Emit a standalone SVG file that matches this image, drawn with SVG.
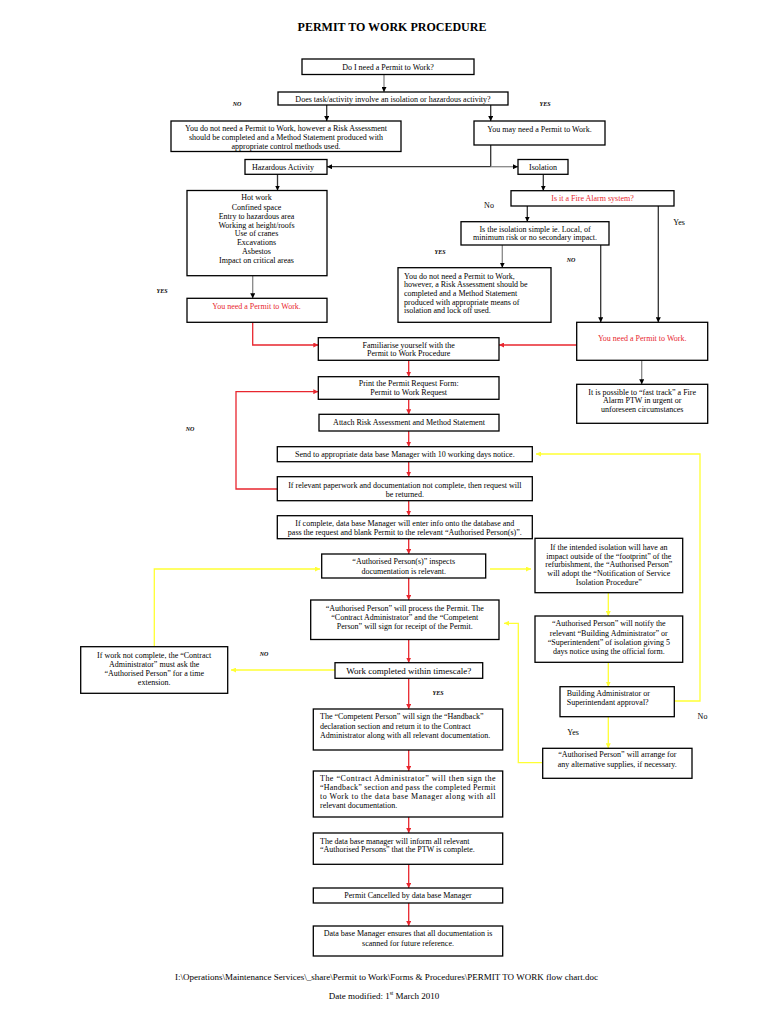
<svg xmlns="http://www.w3.org/2000/svg" width="768" height="1024" viewBox="0 0 768 1024">
<style>
.bg{fill:#fff}
.b{fill:#fff;stroke:#000;stroke-width:1.3}
.t{font-family:"Liberation Serif","Times New Roman",serif;font-size:8px;fill:#000}
.c{text-anchor:middle}
.red{fill:#e8262e}
.lab{font-family:"Liberation Serif","Times New Roman",serif;font-size:6px;font-style:italic;font-weight:bold;fill:#000;text-anchor:middle}
.yn{font-family:"Liberation Serif","Times New Roman",serif;font-size:8px;fill:#000;text-anchor:middle}
.ft{font-family:"Liberation Serif","Times New Roman",serif;font-size:9px;fill:#000;text-anchor:middle}
.ck{stroke:#333;stroke-width:1.3;fill:none}
.cg{stroke:#888;stroke-width:1.3;fill:none}
.cr{stroke:#e8262e;stroke-width:1.3;fill:none}
.cy{stroke:#ffff33;stroke-width:1.3;fill:none}
.mk{marker-end:url(#ak)}
.mr{marker-end:url(#ar)}
.my{marker-end:url(#ay)}
</style>
<defs>
<marker id="ak" viewBox="0 0 10 10" refX="10" refY="5" markerWidth="5" markerHeight="5" markerUnits="userSpaceOnUse" orient="auto"><path d="M0,0 L10,5 L0,10 z" fill="#000"/></marker>
<marker id="ar" viewBox="0 0 10 10" refX="10" refY="5" markerWidth="5" markerHeight="5" markerUnits="userSpaceOnUse" orient="auto"><path d="M0,0 L10,5 L0,10 z" fill="#e8262e"/></marker>
<marker id="ay" viewBox="0 0 10 10" refX="10" refY="5" markerWidth="5" markerHeight="5" markerUnits="userSpaceOnUse" orient="auto"><path d="M0,0 L10,5 L0,10 z" fill="#ffff33"/></marker>
</defs>
<rect class="bg" x="0" y="0" width="768" height="1024"/>

<text x="392" y="31" class="c" style="font-family:'Liberation Serif','Times New Roman',serif;font-size:12px;font-weight:bold">PERMIT TO WORK PROCEDURE</text>

<g id="connectors">
<path class="cg mk" d="M384,74.5 V92"/>
<path class="ck mk" d="M326.7,105 V121"/>
<path class="ck mk" d="M490.7,105 V121"/>
<path class="ck" d="M490.7,145 V166.7"/>
<path class="ck mk" d="M490.7,166.7 H327"/>
<path class="cg mk" d="M490.7,166.7 H518"/>
<path class="ck mk" d="M277.5,174.3 V190.5"/>
<path class="cg mk" d="M252.7,275.7 V298.3"/>
<path class="ck mk" d="M543.3,174.3 V190.7"/>
<path class="ck mk" d="M527.3,206 V221.7"/>
<path class="ck mk" d="M658.3,206 V322.3"/>
<path class="cg mk" d="M502.3,245 V267.7"/>
<path class="ck mk" d="M600.7,245 V322.3"/>
<path class="cg mk" d="M641.7,360.3 V384.3"/>

<path class="cr mr" d="M252.7,322.3 V345 H318.3"/>
<path class="cr mr" d="M576.7,345 H499"/>
<path class="cr mr" d="M408.7,360.3 V376.7"/>
<path class="cr mr" d="M408.7,399.3 V414.3"/>
<path class="cr mr" d="M408.7,431 V446.7"/>
<path class="cr mr" d="M408.7,461.7 V476.7"/>
<path class="cr mr" d="M408.7,500.7 V515.7"/>
<path class="cr mr" d="M408.7,538.7 V554"/>
<path class="cr mr" d="M408.7,578 V600"/>
<path class="cr mr" d="M408.7,639.5 V662.7"/>
<path class="cr mr" d="M408.7,678.3 V709"/>
<path class="cr mr" d="M408.7,750 V771"/>
<path class="cr mr" d="M408.7,817 V833"/>
<path class="cr mr" d="M408.7,864.3 V888"/>
<path class="cr mr" d="M408.7,903 V926"/>
<path class="cr mr" d="M277.3,489 H236 V391.7 H318.3"/>

<path class="cy my" d="M335,670 H231"/>
<path class="cy my" d="M154.3,647 V569 H320"/>
<path class="cy my" d="M490,569 H531"/>
<path class="cy my" d="M608.3,592.7 V616"/>
<path class="cy my" d="M608.3,662.3 V686.7"/>
<path class="cy my" d="M608.3,716.7 V748.3"/>
<path class="cy my" d="M674.3,701 H700 V454 H536"/>
<path class="cy my" d="M542.7,762.7 H518.3 V623.3 H504"/>
</g>

<g id="n-q1">
<rect class="b" x="302" y="59" width="172" height="15.5"/>
<text class="t c" x="388" y="69.5">Do I need a Permit to Work?</text>
</g>
<g id="n-q2">
<rect class="b" x="278" y="92" width="230" height="13"/>
<text class="t c" x="393" y="101.5">Does task/activity involve an isolation or hazardous activity?</text>
</g>
<g id="n-nopermit1">
<rect class="b" x="171" y="121" width="230" height="30.5"/>
<text class="t c" x="286" y="131">You do not need a Permit to Work, however a Risk Assessment</text>
<text class="t c" x="286" y="139.5">should be completed and a Method Statement produced with</text>
<text class="t c" x="286" y="148.5">appropriate control methods used.</text>
</g>
<g id="n-maypermit">
<rect class="b" x="474" y="121" width="131" height="24"/>
<text class="t c" x="539.5" y="131.5">You may need a Permit to Work.</text>
</g>
<g id="n-hazardous">
<rect class="b" x="245" y="159.5" width="82" height="14.8"/>
<text class="t c" x="283" y="169.5">Hazardous Activity</text>
</g>
<g id="n-isolation">
<rect class="b" x="518" y="159.5" width="50" height="14.8"/>
<text class="t c" x="543" y="169.5">Isolation</text>
</g>
<g id="n-list">
<rect class="b" x="187" y="190.5" width="140" height="85.2"/>
<text class="t c" x="256.5" y="199.5">Hot work</text>
<text class="t c" x="256.5" y="210">Confined space</text>
<text class="t c" x="256.5" y="219">Entry to hazardous area</text>
<text class="t c" x="256.5" y="227.5">Working at height/roofs</text>
<text class="t c" x="256.5" y="236">Use of cranes</text>
<text class="t c" x="256.5" y="245">Excavations</text>
<text class="t c" x="256.5" y="253.5">Asbestos</text>
<text class="t c" x="256.5" y="263">Impact on critical areas</text>
</g>
<g id="n-needpermit-left">
<rect class="b" x="187" y="298.3" width="140" height="24"/>
<text class="t c red" x="256.5" y="309">You need a Permit to Work.</text>
</g>
<g id="n-firealarm">
<rect class="b" x="511" y="190.7" width="163" height="15.3"/>
<text class="t c red" x="592.5" y="200.8">Is it a Fire Alarm system?</text>
</g>
<g id="n-simple">
<rect class="b" x="461" y="221.7" width="148" height="23.3"/>
<text class="t c" x="535" y="231.5">Is the isolation simple ie. Local, of</text>
<text class="t c" x="535" y="240">minimum risk or no secondary impact.</text>
</g>
<g id="n-nopermit2">
<rect class="b" x="398" y="267.7" width="153" height="54.6"/>
<text class="t" x="404" y="278.5">You do not need a Permit to Work,</text>
<text class="t" x="404" y="287">however, a Risk Assessment should be</text>
<text class="t" x="404" y="295.5">completed and a Method Statement</text>
<text class="t" x="404" y="304.5">produced with appropriate means of</text>
<text class="t" x="404" y="313">isolation and lock off used.</text>
</g>
<g id="n-needpermit-right">
<rect class="b" x="576.7" y="322.3" width="131" height="38"/>
<text class="t c red" x="642.2" y="341">You need a Permit to Work.</text>
</g>
<g id="n-fasttrack">
<rect class="b" x="576.7" y="384.3" width="131" height="39"/>
<text class="t c" x="642.2" y="394.5">It is possible to “fast track” a Fire</text>
<text class="t c" x="642.2" y="403">Alarm PTW in urgent or</text>
<text class="t c" x="642.2" y="411.5">unforeseen circumstances</text>
</g>
<g id="n-familiarise">
<rect class="b" x="318.3" y="337.7" width="180.7" height="22.6"/>
<text class="t c" x="408.7" y="347.5">Familiarise yourself with the</text>
<text class="t c" x="408.7" y="356">Permit to Work Procedure</text>
</g>
<g id="n-print">
<rect class="b" x="318.3" y="376.7" width="180.7" height="22.6"/>
<text class="t c" x="408.7" y="386">Print the Permit Request Form:</text>
<text class="t c" x="408.7" y="395">Permit to Work Request</text>
</g>
<g id="n-attach">
<rect class="b" x="319" y="414.3" width="180" height="16.7"/>
<text class="t c" x="409" y="425">Attach Risk Assessment and Method Statement</text>
</g>
<g id="n-send">
<rect class="b" x="277.3" y="446.7" width="255" height="15"/>
<text class="t c" x="404.8" y="456.5">Send to appropriate data base Manager with 10 working days notice.</text>
</g>
<g id="n-notcomplete">
<rect class="b" x="277.3" y="476.7" width="255" height="24"/>
<text class="t c" x="404.8" y="487.5">If relevant paperwork and documentation not complete, then request will</text>
<text class="t c" x="404.8" y="496.5">be returned.</text>
</g>
<g id="n-complete">
<rect class="b" x="277.3" y="515.7" width="255" height="23"/>
<text class="t c" x="404.8" y="526">If complete, data base Manager will enter info onto the database and</text>
<text class="t c" x="404.8" y="535">pass the request and blank Permit to the relevant “Authorised Person(s)”.</text>
</g>
<g id="n-inspects">
<rect class="b" x="321.7" y="554" width="164" height="24"/>
<text class="t c" x="403.7" y="564">“Authorised Person(s)” inspects</text>
<text class="t c" x="403.7" y="573.5">documentation is relevant.</text>
</g>
<g id="n-process">
<rect class="b" x="310.7" y="600" width="188.3" height="39.5"/>
<text class="t c" x="404.8" y="611">“Authorised Person” will process the Permit.  The</text>
<text class="t c" x="404.8" y="620">“Contract Administrator” and the “Competent</text>
<text class="t c" x="404.8" y="629">Person” will sign for receipt of the Permit.</text>
</g>
<g id="n-timescale">
<rect class="b" x="335" y="662.7" width="147.7" height="15.6"/>
<text class="t c" x="408.8" y="673.8" style="font-size:9px">Work completed within timescale?</text>
</g>
<g id="n-extension">
<rect class="b" x="80.7" y="646.7" width="147" height="46.6"/>
<text class="t c" x="154.2" y="657.5">If work not complete, the “Contract</text>
<text class="t c" x="154.2" y="666.5">Administrator” must ask the</text>
<text class="t c" x="154.2" y="675.5">“Authorised Person” for a time</text>
<text class="t c" x="154.2" y="684.5">extension.</text>
</g>
<g id="n-handback">
<rect class="b" x="313.3" y="709" width="189.4" height="41"/>
<text class="t" x="320" y="719">The “Competent Person” will sign the “Handback”</text>
<text class="t" x="320" y="728.5">declaration section and return it to the Contract</text>
<text class="t" x="320" y="738">Administrator along with all relevant documentation.</text>
</g>
<g id="n-contractadmin">
<rect class="b" x="313.3" y="771" width="189.4" height="46"/>
<text class="t" x="320" y="781" textLength="175.5" lengthAdjust="spacing">The “Contract Administrator” will then sign the</text>
<text class="t" x="320" y="790" textLength="175.5" lengthAdjust="spacing">“Handback” section and pass the completed Permit</text>
<text class="t" x="320" y="799" textLength="175.5" lengthAdjust="spacing">to Work to the data base Manager along with all</text>
<text class="t" x="320" y="808">relevant documentation.</text>
</g>
<g id="n-inform">
<rect class="b" x="313.3" y="833" width="189.4" height="31.3"/>
<text class="t" x="320" y="843.5">The data base manager will inform all relevant</text>
<text class="t" x="320" y="852">“Authorised Persons” that the PTW is complete.</text>
</g>
<g id="n-cancelled">
<rect class="b" x="313.3" y="888" width="189.4" height="15"/>
<text class="t c" x="408" y="898">Permit Cancelled by data base Manager</text>
</g>
<g id="n-scanned">
<rect class="b" x="313.3" y="926" width="189.4" height="30"/>
<text class="t c" x="408" y="936">Data base Manager ensures that all documentation is</text>
<text class="t c" x="408" y="945.5">scanned for future reference.</text>
</g>
<g id="n-footprint">
<rect class="b" x="535" y="538.3" width="147.7" height="54.4"/>
<text class="t c" x="608.8" y="549.5">If the intended isolation will have an</text>
<text class="t c" x="608.8" y="558.5">impact outside of the “footprint” of the</text>
<text class="t c" x="608.8" y="567">refurbishment, the “Authorised Person”</text>
<text class="t c" x="608.8" y="575.5">will adopt the “Notification of Service</text>
<text class="t c" x="608.8" y="584.5">Isolation Procedure”</text>
</g>
<g id="n-notify">
<rect class="b" x="535" y="616" width="147.7" height="46.3"/>
<text class="t c" x="608.8" y="626">“Authorised Person” will notify the</text>
<text class="t c" x="608.8" y="635.5">relevant “Building Administrator” or</text>
<text class="t c" x="608.8" y="645">“Superintendent” of isolation giving 5</text>
<text class="t c" x="608.8" y="653.5">days notice using the official form.</text>
</g>
<g id="n-approval">
<rect class="b" x="560" y="686.7" width="114.3" height="30"/>
<text class="t" x="566.7" y="696">Building Administrator or</text>
<text class="t" x="566.7" y="705">Superintendant approval?</text>
</g>
<g id="n-supplies">
<rect class="b" x="542.7" y="748.3" width="149.3" height="30"/>
<text class="t c" x="617.3" y="757">“Authorised Person” will arrange for</text>
<text class="t c" x="617.3" y="766.5">any alternative supplies, if necessary.</text>
</g>

<g id="labels">
<text class="lab" x="237" y="106">NO</text>
<text class="lab" x="545" y="106">YES</text>
<text class="lab" x="162" y="293">YES</text>
<text class="lab" x="440" y="254">YES</text>
<text class="lab" x="571" y="262">NO</text>
<text class="lab" x="190" y="431">NO</text>
<text class="lab" x="264" y="656">NO</text>
<text class="lab" x="438" y="695">YES</text>
<text class="yn" x="489" y="208">No</text>
<text class="yn" x="679" y="224.5">Yes</text>
<text class="yn" x="702.5" y="719">No</text>
<text class="yn" x="573" y="734.5">Yes</text>
</g>

<g id="footer">
<text class="ft" x="386.5" y="979.5">I:\Operations\Maintenance Services\_share\Permit to Work\Forms &amp; Procedures\PERMIT TO WORK flow chart.doc</text>
<text class="ft" x="384" y="998.5">Date modified: 1<tspan dy="-3.5" style="font-size:5.5px">st</tspan><tspan dy="3.5"> March 2010</tspan></text>
</g>
</svg>
